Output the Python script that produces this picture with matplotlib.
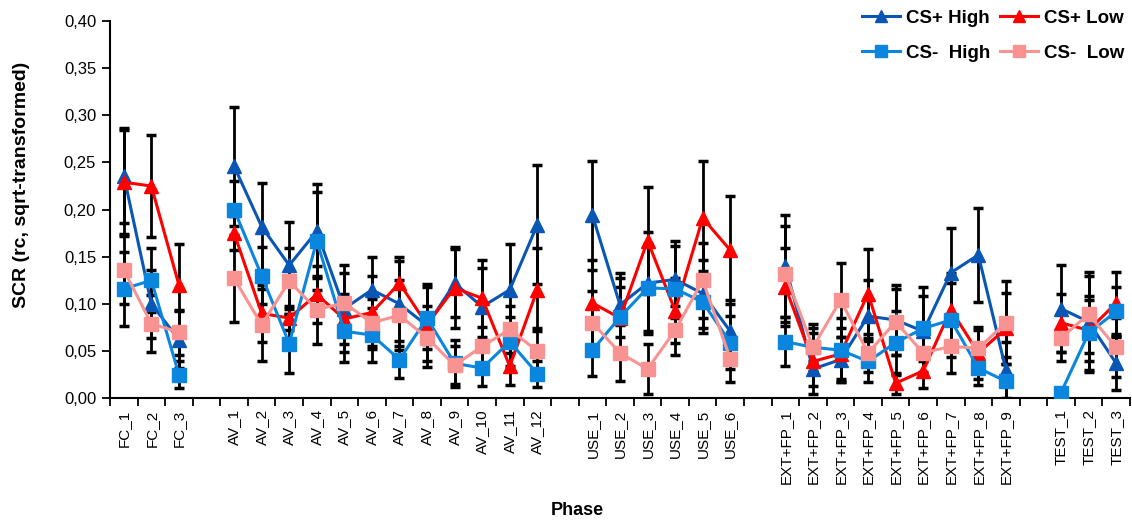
import numpy as np
import matplotlib
matplotlib.use("Agg")
import matplotlib.pyplot as plt
from matplotlib.ticker import FixedLocator, FuncFormatter

plt.rcParams['font.family'] = ['Liberation Sans', 'DejaVu Sans']

# ---- data ----
group_names = ["FC", "AV", "USE", "EXT+FP", "TEST"]
group_sizes = [3, 12, 6, 9, 3]
labels = [f"{g}_{i+1}" for g, n in zip(group_names, group_sizes) for i in range(n)]

cs_plus_high = [0.236, 0.100, 0.062,
                0.246, 0.182, 0.141, 0.177, 0.095, 0.115, 0.100, 0.077, 0.122, 0.097, 0.115, 0.184,
                0.194, 0.099, 0.122, 0.126, 0.111, 0.071,
                0.140, 0.031, 0.041, 0.087, 0.083, 0.071, 0.133, 0.152, 0.030,
                0.095, 0.081, 0.037]
cs_plus_high_err = [0.050, 0.036, 0.030,
                    0.063, 0.046, 0.046, 0.050, 0.046, 0.035, 0.045, 0.044, 0.036, 0.041, 0.048, 0.063,
                    0.058, 0.034, 0.054, 0.041, 0.036, 0.033,
                    0.054, 0.018, 0.024, 0.038, 0.037, 0.047, 0.047, 0.050, 0.030,
                    0.046, 0.053, 0.028]

cs_plus_low = [0.229, 0.225, 0.120,
               0.175, 0.090, 0.085, 0.110, 0.084, 0.091, 0.122, 0.078, 0.117, 0.106, 0.034, 0.115,
               0.101, 0.085, 0.167, 0.093, 0.191, 0.157,
               0.118, 0.039, 0.047, 0.111, 0.016, 0.029, 0.094, 0.048, 0.074,
               0.080, 0.072, 0.101]
cs_plus_low_err = [0.055, 0.054, 0.044,
                   0.018, 0.030, 0.013, 0.030, 0.027, 0.039, 0.028, 0.020, 0.043, 0.041, 0.020, 0.044,
                   0.046, 0.033, 0.057, 0.034, 0.060, 0.057,
                   0.041, 0.035, 0.027, 0.047, 0.011, 0.018, 0.039, 0.028, 0.038,
                   0.031, 0.032, 0.033]

cs_minus_high = [0.116, 0.125, 0.025,
                 0.200, 0.130, 0.058, 0.167, 0.071, 0.067, 0.041, 0.085, 0.037, 0.032, 0.060, 0.026,
                 0.051, 0.086, 0.117, 0.116, 0.102, 0.059,
                 0.060, 0.054, 0.051, 0.039, 0.059, 0.074, 0.083, 0.032, 0.018,
                 0.006, 0.069, 0.092]
cs_minus_high_err = [0.039, 0.034, 0.014,
                     0.030, 0.030, 0.031, 0.052, 0.033, 0.029, 0.020, 0.033, 0.025, 0.019, 0.026, 0.014,
                     0.027, 0.041, 0.046, 0.045, 0.033, 0.028,
                     0.026, 0.025, 0.034, 0.022, 0.034, 0.034, 0.039, 0.018, 0.026,
                     0.004, 0.039, 0.026]

cs_minus_low = [0.136, 0.079, 0.070,
                0.127, 0.078, 0.124, 0.094, 0.101, 0.080, 0.088, 0.064, 0.035, 0.055, 0.073, 0.050,
                0.080, 0.048, 0.031, 0.072, 0.125, 0.042,
                0.132, 0.054, 0.104, 0.048, 0.081, 0.048, 0.055, 0.053, 0.080,
                0.064, 0.089, 0.054]
cs_minus_low_err = [0.036, 0.030, 0.024,
                    0.046, 0.038, 0.035, 0.036, 0.032, 0.025, 0.037, 0.025, 0.020, 0.021, 0.025, 0.024,
                    0.034, 0.030, 0.026, 0.026, 0.040, 0.025,
                    0.051, 0.015, 0.039, 0.020, 0.035, 0.020, 0.028, 0.019, 0.044,
                    0.025, 0.041, 0.031]

series = [
    ("CS+ High", cs_plus_high, cs_plus_high_err, "#0A56B4", "^", 10.5),
    ("CS+ Low", cs_plus_low, cs_plus_low_err, "#FF0000", "^", 10.5),
    ("CS-  High", cs_minus_high, cs_minus_high_err, "#0B86DE", "s", 9.5),
    ("CS-  Low", cs_minus_low, cs_minus_low_err, "#F99391", "s", 9.5),
]

# ---- category positions with one blank slot between groups ----
positions = []
pos = 0
for gi, n in enumerate(group_sizes):
    for i in range(n):
        positions.append(pos)
        pos += 1
    if gi < len(group_sizes) - 1:
        pos += 1
n_slots = pos
positions = np.array(positions)


def with_gaps(vals):
    full = np.full(n_slots, np.nan)
    full[positions] = vals
    return full


fig = plt.figure(figsize=(11.32, 5.24), dpi=100)
ax = fig.add_axes([0.0972, 0.240, 0.9010, 0.720])

xs = np.arange(n_slots)
for k, (name, vals, errs, col, mk, ms) in enumerate(series):
    ax.errorbar(positions, vals, yerr=errs, fmt="none", ecolor="black",
                elinewidth=2.0, capsize=3.8, capthick=2.5, zorder=2)
handles = []
for k, (name, vals, errs, col, mk, ms) in enumerate(series):
    h, = ax.plot(xs, with_gaps(vals), color=col, lw=2.2, marker=mk, markersize=ms,
                 markerfacecolor=col, markeredgecolor=col, label=name, zorder=3 + k)
    handles.append(h)

ax.set_xlim(-0.5, n_slots - 0.5)
ax.set_ylim(0, 0.40)

# y axis
ax.set_yticks(np.arange(0, 0.401, 0.05))
ax.yaxis.set_major_formatter(FuncFormatter(lambda v, p: f"{v:.2f}".replace(".", ",")))
ax.tick_params(axis="y", which="major", direction="out", length=6, width=1.3,
               labelsize=12, pad=4)

# x axis: boundary ticks (major) and centered labels (minor)
ax.xaxis.set_major_locator(FixedLocator(np.arange(-0.5, n_slots, 1.0)))
ax.xaxis.set_major_formatter(FuncFormatter(lambda v, p: ""))
ax.xaxis.set_minor_locator(FixedLocator(positions))
ax.set_xticklabels(labels, minor=True, rotation=90, fontsize=11)
ax.tick_params(axis="x", which="major", direction="out", length=6, width=1.3)
ax.tick_params(axis="x", which="minor", length=0, pad=8)

for s in ["top", "right"]:
    ax.spines[s].set_visible(False)
for s in ["left", "bottom"]:
    ax.spines[s].set_linewidth(1.5)
    ax.spines[s].set_color("black")

fig.text(0.019, 0.648, "SCR (rc, sqrt-transformed)", rotation=90, fontsize=14,
         fontweight="bold", ha="center", va="center")
fig.text(0.510, 0.025, "Phase", fontsize=13, fontweight="bold", ha="center", va="center")

# legend: row 1 = CS+ High, CS+ Low ; row 2 = CS- High, CS- Low (column-wise filling)
order = [0, 2, 1, 3]
leg = fig.legend([handles[i] for i in order], [handles[i].get_label() for i in order],
                 loc="upper right", bbox_to_anchor=(1.003, 1.003), ncol=2, frameon=False,
                 prop={"weight": "bold", "size": 13.5}, handlelength=2.05,
                 handletextpad=0.3, columnspacing=0.5, labelspacing=0.96,
                 markerscale=0.85, borderaxespad=0.2)

fig.savefig("out.png", dpi=100)
